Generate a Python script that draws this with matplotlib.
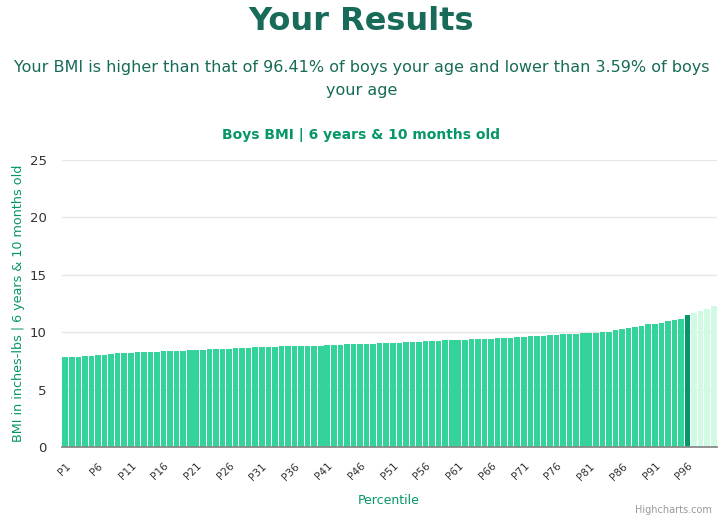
import matplotlib
matplotlib.use("Agg")
import matplotlib.pyplot as plt

percentiles = [f"P{i}" for i in range(1, 101)]
bmi_values = [
    7.82, 7.85, 7.88, 7.92, 7.97, 8.00, 8.05, 8.10, 8.15, 8.20,
    8.22, 8.24, 8.26, 8.28, 8.30, 8.32, 8.34, 8.37, 8.40, 8.42,
    8.44, 8.47, 8.50, 8.53, 8.56, 8.58, 8.60, 8.62, 8.65, 8.68,
    8.70, 8.72, 8.74, 8.76, 8.77, 8.78, 8.79, 8.80, 8.82, 8.84,
    8.86, 8.88, 8.91, 8.94, 8.97, 8.99, 9.00, 9.01, 9.02, 9.03,
    9.05, 9.08, 9.11, 9.14, 9.17, 9.20, 9.23, 9.26, 9.29, 9.32,
    9.34, 9.36, 9.38, 9.40, 9.43, 9.45, 9.48, 9.50, 9.53, 9.56,
    9.59, 9.63, 9.67, 9.71, 9.76, 9.79, 9.82, 9.84, 9.87, 9.90,
    9.93, 9.97, 10.00, 10.05, 10.15, 10.25, 10.35, 10.42, 10.56, 10.68,
    10.72, 10.83, 10.96, 11.03, 11.15, 11.46, 11.64, 11.87, 12.02, 12.28,
]
user_index = 95  # P96 highlighted
y_ticks = [0, 5, 10, 15, 20, 25]

title = "Your Results"
subtitle = "Your BMI is higher than that of 96.41% of boys your age and lower than 3.59% of boys\nyour age"
chart_title = "Boys BMI | 6 years & 10 months old"
y_label = "BMI in inches-lbs | 6 years & 10 months old"
x_label = "Percentile"

plt.rcParams['font.family'] = ['DejaVu Sans']

fig = plt.figure(figsize=(7.23, 5.19), dpi=100)
ax = fig.add_axes([62/723, 72/519, 655/723, 287/519])

colors = []
for i in range(len(bmi_values)):
    if i < user_index:
        colors.append("#34d399")
    elif i == user_index:
        colors.append("#059669")
    else:
        colors.append("#d1fae5")

x = list(range(len(bmi_values)))
ax.bar(x, bmi_values, width=0.86, color=colors, zorder=2)
ax.set_xlim(-0.5, len(bmi_values) - 0.5)
ax.set_ylim(0, 25)
ax.set_yticks(y_ticks)
ax.set_yticklabels([str(t) for t in y_ticks], fontsize=9.5, color="#333333")
ax.grid(axis="y", color="#e6e6e6", linewidth=1, zorder=0)
ax.set_axisbelow(True)
for s in ["top", "right", "left"]:
    ax.spines[s].set_visible(False)
ax.spines["bottom"].set_color("#8a8a8a")
ax.spines["bottom"].set_linewidth(1.3)
ax.tick_params(axis="y", length=0, pad=11)

tick_pos = list(range(0, 100, 5))
ax.set_xticks(tick_pos)
ax.set_xticklabels([percentiles[i] for i in tick_pos], rotation=45, ha="right",
                   rotation_mode="anchor", fontsize=7.6, color="#333333")
ax.tick_params(axis="x", length=0, pad=10)

ax.set_ylabel(y_label, color="#059669", fontsize=9.2)
ax.yaxis.set_label_coords(-0.057, 0.5)
fig.text(389/723, 1 - 501/519, x_label, color="#059669", fontsize=9, ha="center", va="center")

fig.text(0.5, 1 - 21/519, title, ha="center", va="center", fontsize=23,
         fontweight="bold", color="#176b58")
fig.text(0.5, 1 - 79/519, subtitle, ha="center", va="center", fontsize=11.5,
         color="#176b58", linespacing=1.6)
fig.text(0.5, 1 - 135/519, chart_title, ha="center", va="center", fontsize=10,
         fontweight="bold", color="#059669")
fig.text(712/723, 1 - 510/519, "Highcharts.com", ha="right", va="center",
         fontsize=7, color="#999999")

fig.savefig("out.png", dpi=100)
